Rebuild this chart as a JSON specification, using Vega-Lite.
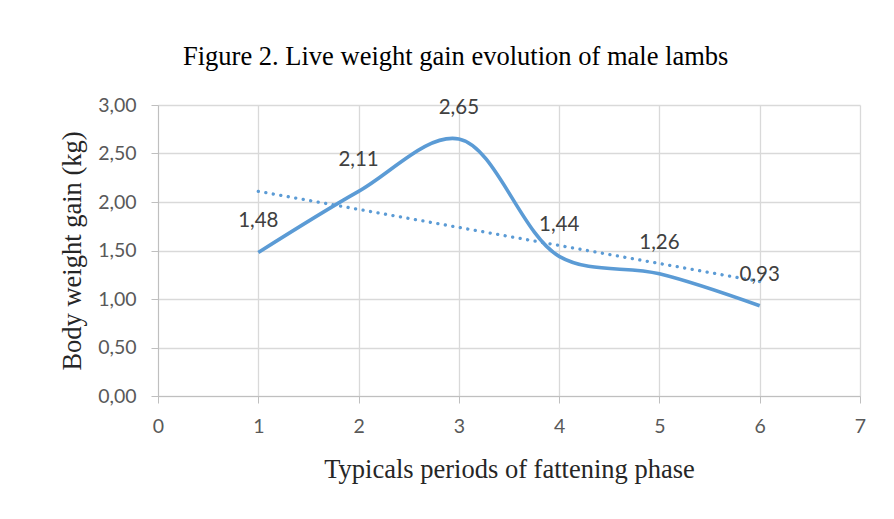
{
  "$schema": "https://vega.github.io/schema/vega-lite/v6.json",
  "width": 702,
  "height": 291,
  "autosize": "none",
  "padding": {"left": 158, "top": 105, "right": 34, "bottom": 123},
  "background": "white",
  "title": {
    "text": "Figure 2. Live weight gain evolution of male lambs",
    "font": "Liberation Serif",
    "fontSize": 26.5,
    "fontWeight": "normal",
    "color": "#000000",
    "anchor": "start",
    "frame": "group",
    "dx": 25,
    "offset": 25
  },
  "config": {
    "locale": {"number": {"decimal": ",", "thousands": ".", "grouping": [3], "currency": ["", " €"]}},
    "view": {"stroke": null},
    "axis": {
      "labelFont": "Lato",
      "labelFontSize": 19.5,
      "labelColor": "#595959",
      "titleFont": "Liberation Serif",
      "titleFontSize": 26.5,
      "titleFontWeight": "normal",
      "titleColor": "#262626",
      "gridColor": "#d9d9d9",
      "gridWidth": 1.3,
      "tickColor": "#bfbfbf",
      "domainColor": "#bfbfbf"
    }
  },
  "data": {
    "values": [
      {"period": 1, "gain": 1.48},
      {"period": 2, "gain": 2.11},
      {"period": 3, "gain": 2.65},
      {"period": 4, "gain": 1.44},
      {"period": 5, "gain": 1.26},
      {"period": 6, "gain": 0.93}
    ]
  },
  "layer": [
    {
      "mark": {"type": "line", "interpolate": "catmull-rom", "color": "#5b9bd5", "strokeWidth": 3.6},
      "encoding": {
        "x": {
          "field": "period",
          "type": "quantitative",
          "scale": {"domain": [0, 7], "nice": false},
          "axis": {
            "title": "Typicals periods of fattening phase",
            "values": [0, 1, 2, 3, 4, 5, 6, 7],
            "format": "d",
            "labelFlush": false,
            "tickSize": 7,
            "labelPadding": 14,
            "titleY": 60,
            "domain": true
          }
        },
        "y": {
          "field": "gain",
          "type": "quantitative",
          "scale": {"domain": [0, 3], "nice": false},
          "axis": {
            "title": "Body weight gain (kg)",
            "values": [0, 0.5, 1, 1.5, 2, 2.5, 3],
            "format": ".2f",
            "labelFlush": false,
            "tickSize": 7,
            "labelPadding": 15,
            "titleX": -72
          }
        }
      }
    },
    {
      "transform": [{"regression": "gain", "on": "period", "extent": [1, 6]}],
      "mark": {"type": "line", "color": "#5b9bd5", "strokeWidth": 3.3, "strokeDash": [0.1, 7.5], "strokeCap": "round"},
      "encoding": {
        "x": {"field": "period", "type": "quantitative"},
        "y": {"field": "gain", "type": "quantitative"}
      }
    },
    {
      "mark": {"type": "text", "font": "Lato", "fontSize": 20.5, "color": "#404040", "dy": -31},
      "encoding": {
        "x": {"field": "period", "type": "quantitative"},
        "y": {"field": "gain", "type": "quantitative"},
        "text": {"field": "gain", "type": "quantitative", "format": ".2f"}
      }
    }
  ]
}
